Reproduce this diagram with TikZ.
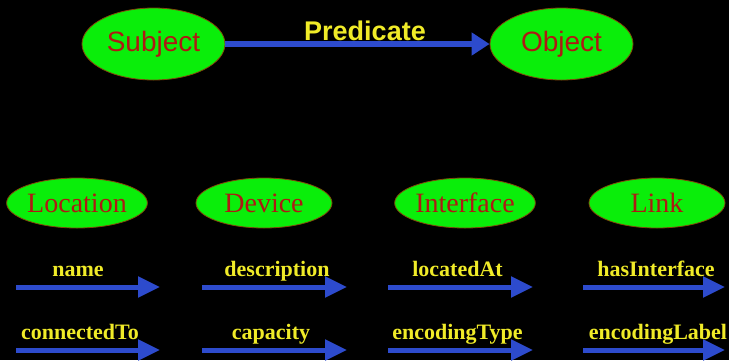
\documentclass[tikz,border=0pt]{standalone}
\usepackage{fontspec}
\setmainfont{Liberation Serif}
\newfontfamily\arialish{Liberation Sans}
\usetikzlibrary{shapes.geometric,arrows.meta}
\definecolor{nodegreen}{RGB}{10,238,10}
\definecolor{nodered}{RGB}{175,25,20}
\definecolor{rimbrown}{RGB}{130,70,10}
\definecolor{propblue}{RGB}{45,75,205}
\definecolor{propyellow}{RGB}{240,235,40}
\begin{document}
\begin{tikzpicture}[x=1pt,y=-1pt,
  classnode/.style={ellipse,fill=nodegreen,draw=rimbrown,line width=0.8pt,
    inner sep=0pt,text=nodered},
  bigclass/.style={classnode,minimum width=143pt,minimum height=72pt,
    font=\arialish\fontsize{28}{30}\selectfont},
  smallclass/.style={classnode,minimum width=136pt,minimum height=50pt,
    font=\fontsize{28}{30}\selectfont},
  proplabel/.style={text=propyellow,anchor=base,inner sep=0pt,
    font=\bfseries\fontsize{22}{24}\selectfont},
  proparrow/.style={draw=propblue,line width=5pt,
    -{Triangle[length=22pt,width=20pt]}}
]
% black backdrop
\fill[black] (0,0) rectangle (729,360);
\useasboundingbox (0,0) rectangle (729,360);

% generic triple
\node[bigclass] (subject) at (153.5,44) {Subject};
\node[bigclass] (object) at (561.5,44) {Object};
\draw[proparrow,line width=6pt,-{Triangle[length=18pt,width=22pt]}]
  (subject.east) -- (object.west);
\node[text=propyellow,inner sep=0pt,
  font=\arialish\bfseries\fontsize{27}{29}\selectfont] (pred) at (365,31) {Predicate};

% classes
\node[smallclass] (location) at (77,203) {Location};
\node[smallclass] (device) at (264,203) {Device};
\node[smallclass] (interface) at (465,203) {Interface};
\node[smallclass] (link) at (657,203) {Link};

% property arrows, two rows per class
\foreach \nm/\xa/\xb in {loc/16/160, dev/202/347, ifc/388/533, lnk/583/725}{
  \coordinate (\nm-a1) at (\xa,287);
  \coordinate (\nm-b1) at (\xb,287);
  \coordinate (\nm-a2) at (\xa,350);
  \coordinate (\nm-b2) at (\xb,350);
  \draw[proparrow] (\nm-a1) -- (\nm-b1);
  \draw[proparrow] (\nm-a2) -- (\nm-b2);
}

% property names
\node[proplabel] (p-name) at (78,276) {name};
\node[proplabel] (p-conn) at (80,339) {connectedTo};
\node[proplabel] (p-desc) at (277,276) {description};
\node[proplabel] (p-cap) at (271,339) {capacity};
\node[proplabel] (p-loc) at (457.5,276) {locatedAt};
\node[proplabel] (p-enct) at (457.5,339) {encodingType};
\node[proplabel] (p-hasi) at (656,276) {hasInterface};
\node[proplabel] (p-encl) at (658,339) {encodingLabel};
\end{tikzpicture}
\end{document}
